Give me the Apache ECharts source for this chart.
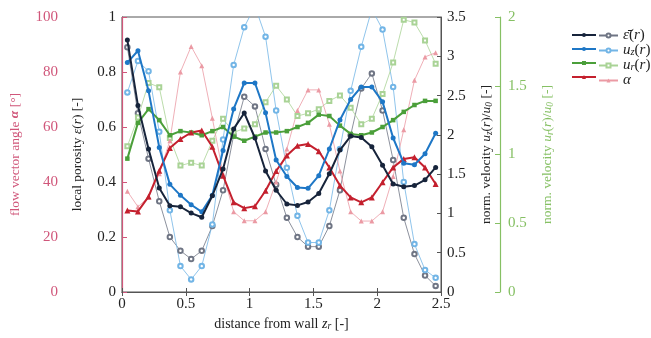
<!DOCTYPE html>
<html><head><meta charset="utf-8">
<script src="https://cdn.jsdelivr.net/npm/echarts@6/dist/echarts.min.js"></script>
<style>html,body{margin:0;padding:0;background:#fff}#c{width:651px;height:338px}</style>
</head><body><div id="c"></div>
<script>
const dist = [0.042,0.125,0.208,0.292,0.375,0.458,0.542,0.625,0.708,0.792,0.875,0.958,1.042,1.125,1.208,1.292,1.375,1.458,1.542,1.625,1.708,1.792,1.875,1.958,2.042,2.125,2.208,2.292,2.375,2.458];
const epsSim = [0.916,0.678,0.52,0.378,0.314,0.31,0.287,0.272,0.35,0.447,0.593,0.651,0.56,0.44,0.37,0.32,0.315,0.327,0.358,0.43,0.516,0.567,0.562,0.528,0.461,0.393,0.383,0.387,0.408,0.453];
const epsExp = [0.89,0.65,0.485,0.33,0.2,0.15,0.12,0.15,0.24,0.37,0.57,0.71,0.675,0.52,0.39,0.27,0.2,0.165,0.165,0.24,0.37,0.57,0.74,0.795,0.66,0.48,0.27,0.138,0.06,0.022];
const uzSim = [2.92,3.07,2.56,1.84,1.37,1.23,1.11,1.02,1.23,1.80,2.33,2.66,2.66,2.28,1.68,1.47,1.33,1.32,1.48,1.82,2.19,2.45,2.61,2.61,2.42,1.96,1.64,1.62,1.76,2.02];
const uzExp = [2.54,2.94,2.81,2.04,1.04,0.33,0.16,0.33,0.86,1.94,2.89,3.37,3.64,3.25,2.31,1.58,0.97,0.63,0.63,1.04,1.82,2.56,3.12,3.6,3.34,2.61,1.4,0.61,0.28,0.18];
const urSim = [0.97,1.23,1.33,1.25,1.14,1.17,1.16,1.14,1.17,1.20,1.13,1.10,1.13,1.16,1.16,1.17,1.20,1.23,1.29,1.28,1.21,1.15,1.14,1.16,1.20,1.25,1.31,1.36,1.39,1.39];
const urExp = [1.06,1.27,1.52,1.49,1.12,0.92,0.94,0.92,1.1,1.26,1.16,1.19,1.22,1.38,1.5,1.4,1.28,1.30,1.33,1.39,1.43,1.34,1.22,1.26,1.44,1.67,1.98,1.96,1.83,1.66];
const alphaSim = [29.6,29.3,34.7,44.1,52.4,55.6,58,58.7,52.8,42.3,32.6,30.5,31.2,36.8,44,49.6,53.2,53.8,51.2,45.3,38.7,34.4,32.6,34.4,39.9,45.3,48.4,49,45.3,39.3];
const alphaExp = [36.6,31,34.5,43,55,80,89.3,82.3,63.2,43,29.2,25.9,25.9,29.2,40,52,66,73.5,73.5,61,44,29.2,25.8,25.8,29.2,42,59,77,85.5,87];

const xTicks = [0, 0.5, 1, 1.5, 2, 2.5];
const epsTicks = [0, 0.2, 0.4, 0.6, 0.8, 1];
const alphaTicks = [0, 20, 40, 60, 80, 100];
const uzTicks = [0, 0.5, 1, 1.5, 2, 2.5, 3, 3.5];
const urTicks = [0, 0.5, 1, 1.5, 2];

const F = 'Liberation Serif';
const C_EPS = '#17243b', C_EPS_F = '#6f7584';
const C_UZ = '#1e77c6', C_UZ_F = '#72b5e6';
const C_UR = '#4b9f3a', C_UR_F = '#a9d396';
const C_A = '#c4202e', C_A_F = '#eb9aa4';
const C_AX_A = '#d0567a', C_AX_R = '#86c064';

function pairs(ys){ return dist.map((x,i)=>[x, ys[i]]); }
function richSet(col, size){
  return {
    n:{fontFamily:F,fontSize:size,color:col},
    it:{fontFamily:F,fontSize:size,color:col,fontStyle:'italic'},
    b:{fontFamily:F,fontSize:size,color:col,fontStyle:'italic',fontWeight:'bold'},
    sub:{fontFamily:F,fontSize:size*0.7,color:col,fontStyle:'italic',verticalAlign:'bottom',padding:[6,0,0,0]}
  };
}
const chart = echarts.init(document.getElementById('c'), null, {renderer:'canvas'});
const gridCol = '#555';
function yAx(o){
  return Object.assign({
    type:'value', splitLine:{show:false},
    axisLine:{show:true, lineStyle:{color:gridCol, width:1}},
    axisTick:{show:true, inside:true, length:4, lineStyle:{color:gridCol}},
    axisLabel:{fontFamily:F, fontSize:15, color:'#222', margin:6},
    nameLocation:'middle'
  }, o);
}
function line(name, yi, data, color, sym, size, w, z){
  return {name, type:'line', xAxisIndex:0, yAxisIndex:yi, data:pairs(data),
    symbol:sym, symbolSize:size, showSymbol:true, showAllSymbol:true,
    lineStyle:{color, width:w}, itemStyle:{color, borderWidth:1},
    z, animation:false, clip:true};
}
const legendRich = richSet('#222', 15);
const legendLabels = {
  eps:'{it|ε̄}{n|(}{it|r}{n|)}',
  uz:'{it|u}{sub|z}{n|(}{it|r}{n|)}',
  ur:'{it|u}{sub|r}{n|(}{it|r}{n|)}',
  a:'{it|α}'
};
chart.setOption({
  animation:false,
  grid:{left:122, right:210, top:17, bottom:46, show:true, borderColor:gridCol, borderWidth:1},
  xAxis:[
    {type:'value', min:xTicks[0], max:xTicks[xTicks.length-1], interval:0.5, position:'bottom',
     splitLine:{show:false}, axisLine:{show:true,lineStyle:{color:gridCol}},
     axisTick:{inside:true,length:4,lineStyle:{color:gridCol}},
     axisLabel:{fontFamily:F,fontSize:15,color:'#222',margin:5},
     name:'{n|distance from wall }{it|z}{sub|r}{n| [-]}', nameLocation:'middle', nameGap:23,
     nameTextStyle:{rich:richSet('#222',14)}},
    {type:'value', min:xTicks[0], max:xTicks[xTicks.length-1], interval:0.5, position:'top',
     splitLine:{show:false}, axisLine:{show:true,lineStyle:{color:gridCol}},
     axisTick:{inside:true,length:4,lineStyle:{color:gridCol}}, axisLabel:{show:false}}
  ],
  yAxis:[
    yAx({min:epsTicks[0], max:epsTicks[epsTicks.length-1], interval:0.2, position:'left', offset:0,
      name:'{n|local porosity }{it|ε}{n|(}{it|r}{n|) [-]}', nameGap:38,
      nameTextStyle:{rich:richSet('#222',13.5)}}),
    yAx({min:alphaTicks[0], max:alphaTicks[alphaTicks.length-1], interval:20, position:'left', offset:59,
      axisLine:{show:true,lineStyle:{color:C_AX_A,width:1.2}},
      axisTick:{show:true,inside:true,length:5,lineStyle:{color:C_AX_A}},
      axisLabel:{fontFamily:F,fontSize:15,color:C_AX_A,margin:5},
      name:'{n|flow vector angle }{b|α}{n| [°]}', nameGap:41,
      nameTextStyle:{rich:richSet(C_AX_A,13.5)}}),
    yAx({min:uzTicks[0], max:uzTicks[uzTicks.length-1], interval:0.5, position:'right', offset:0,
      name:'{n|norm. velocity }{it|u}{sub|z}{n|(}{it|r}{n|)/}{it|u}{sub|0}{n| [-]}', nameGap:38,
      nameTextStyle:{rich:richSet('#222',13.5)}}),
    yAx({min:urTicks[0], max:urTicks[urTicks.length-1], interval:0.5, position:'right', offset:59,
      axisLine:{show:true,lineStyle:{color:C_AX_R,width:1.2}},
      axisTick:{show:true,inside:true,length:5,lineStyle:{color:C_AX_R}},
      axisLabel:{fontFamily:F,fontSize:15,color:C_AX_R,margin:8},
      name:'{n|norm. velocity }{it|u}{sub|r}{n|(}{it|r}{n|)/}{it|u}{sub|0}{n| [-]}', nameGap:40,
      nameTextStyle:{rich:richSet(C_AX_R,13.5)}})
  ],
  legend:[
    {data:['epsS','uzS','urS','aS'], orient:'vertical', left:566, top:23, itemWidth:24, itemHeight:5, itemGap:0,
     selectedMode:false, formatter:()=>' ', textStyle:{fontSize:14, lineHeight:14, color:'transparent'}},
    {data:['eps','uz','ur','a'], orient:'vertical', left:593, top:23, itemWidth:19, itemHeight:5, itemGap:0,
     selectedMode:false, formatter:(n)=>legendLabels[n], textStyle:{fontSize:15, lineHeight:14, color:'#222', rich:legendRich}}
  ],
  series:[
    line('eps',0,epsExp,C_EPS_F,'emptyCircle',4.5,0.8,2),
    line('uz',2,uzExp,C_UZ_F,'emptyCircle',4.5,0.8,2),
    line('ur',3,urExp,C_UR_F,'emptyRect',4,0.8,2),
    line('a',1,alphaExp,C_A_F,'triangle',5,0.8,2),
    line('urS',3,urSim,C_UR,'rect',4.5,2,4),
    line('aS',1,alphaSim,C_A,'triangle',6,2,4),
    line('uzS',2,uzSim,C_UZ,'circle',5,2,5),
    line('epsS',0,epsSim,C_EPS,'circle',5,2,6)
  ]
});
</script></body></html>
